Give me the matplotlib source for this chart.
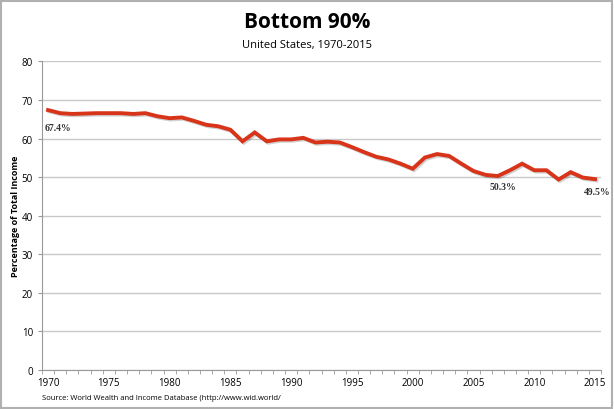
import matplotlib
matplotlib.use("Agg")
import matplotlib.pyplot as plt
import matplotlib.patheffects as pe
from matplotlib.patches import Rectangle

# Bottom 90% share of total income, United States
years = list(range(1970, 2016))
share = [67.4, 66.6, 66.4, 66.5, 66.6, 66.6, 66.6, 66.4, 66.6, 65.8,
         65.3, 65.5, 64.6, 63.6, 63.2, 62.3, 59.3, 61.6, 59.3, 59.8,
         59.8, 60.2, 59.0, 59.2, 59.0, 57.8, 56.5, 55.3, 54.6, 53.5,
         52.2, 55.1, 56.0, 55.5, 53.5, 51.6, 50.6, 50.3, 51.8, 53.5,
         51.8, 51.8, 49.4, 51.3, 49.9, 49.5]

labels = [(1970, "67.4%"), (2007, "50.3%"), (2015, "49.5%")]
label_pos = [(1970.8, 63.0), (2007.4, 47.6), (2015.2, 46.4)]

fig = plt.figure(figsize=(6.14, 4.10), dpi=100)
ax = fig.add_axes([0.0684, 0.095, 0.9106, 0.7526])

ax.plot(years, share, color="#d8341a", lw=2.8, solid_joinstyle="miter",
        path_effects=[pe.SimpleLineShadow(offset=(1.0, -1.0), alpha=0.18),
                      pe.Normal()], zorder=3)

for (yr, txt), (tx, ty) in zip(labels, label_pos):
    ax.text(tx, ty, txt, ha="center", va="center", fontsize=7,
            fontweight="bold", family="Liberation Serif", color="#333333")

ax.set_xlim(1969.5, 2015.5)
ax.set_ylim(0, 80)
ax.set_yticks(range(0, 81, 10))
ax.set_xticks(range(1970, 2016, 5))
ax.set_xticks([y - 0.5 for y in range(1970, 2017)], minor=True)
ax.tick_params(axis="x", which="major", length=0, labelsize=7, pad=5)
ax.tick_params(axis="x", which="minor", length=3, color="#999999")
ax.tick_params(axis="y", length=3, color="#999999", labelsize=7)
for lab in ax.get_xticklabels() + ax.get_yticklabels():
    lab.set_family("Open Sans")

ax.grid(axis="y", color="#c8c8c8", lw=1)
ax.set_axisbelow(True)
for s in ["top", "right"]:
    ax.spines[s].set_visible(False)
for s in ["left", "bottom"]:
    ax.spines[s].set_color("#999999")

ax.set_ylabel("Percentage of Total Income", fontsize=6.5, fontweight="bold",
              family="Open Sans")
ax.yaxis.set_label_coords(-0.039, 0.5)

fig.text(0.5, 0.945, "Bottom 90%", ha="center", va="center", fontsize=15,
         fontweight="bold", family="Open Sans")
fig.text(0.5, 0.89, "United States, 1970-2015", ha="center", va="center",
         fontsize=8, family="Open Sans")
fig.text(0.069, 0.027, "Source: World Wealth and Income Database (http://www.wid.world/",
         ha="left", va="center", fontsize=5.5, family="Open Sans")

fig.patches.append(Rectangle((0.002, 0.003), 0.995, 0.993, transform=fig.transFigure,
                             fill=False, edgecolor="#b0b0b0", lw=1.5))

fig.savefig("out.png", dpi=100)
